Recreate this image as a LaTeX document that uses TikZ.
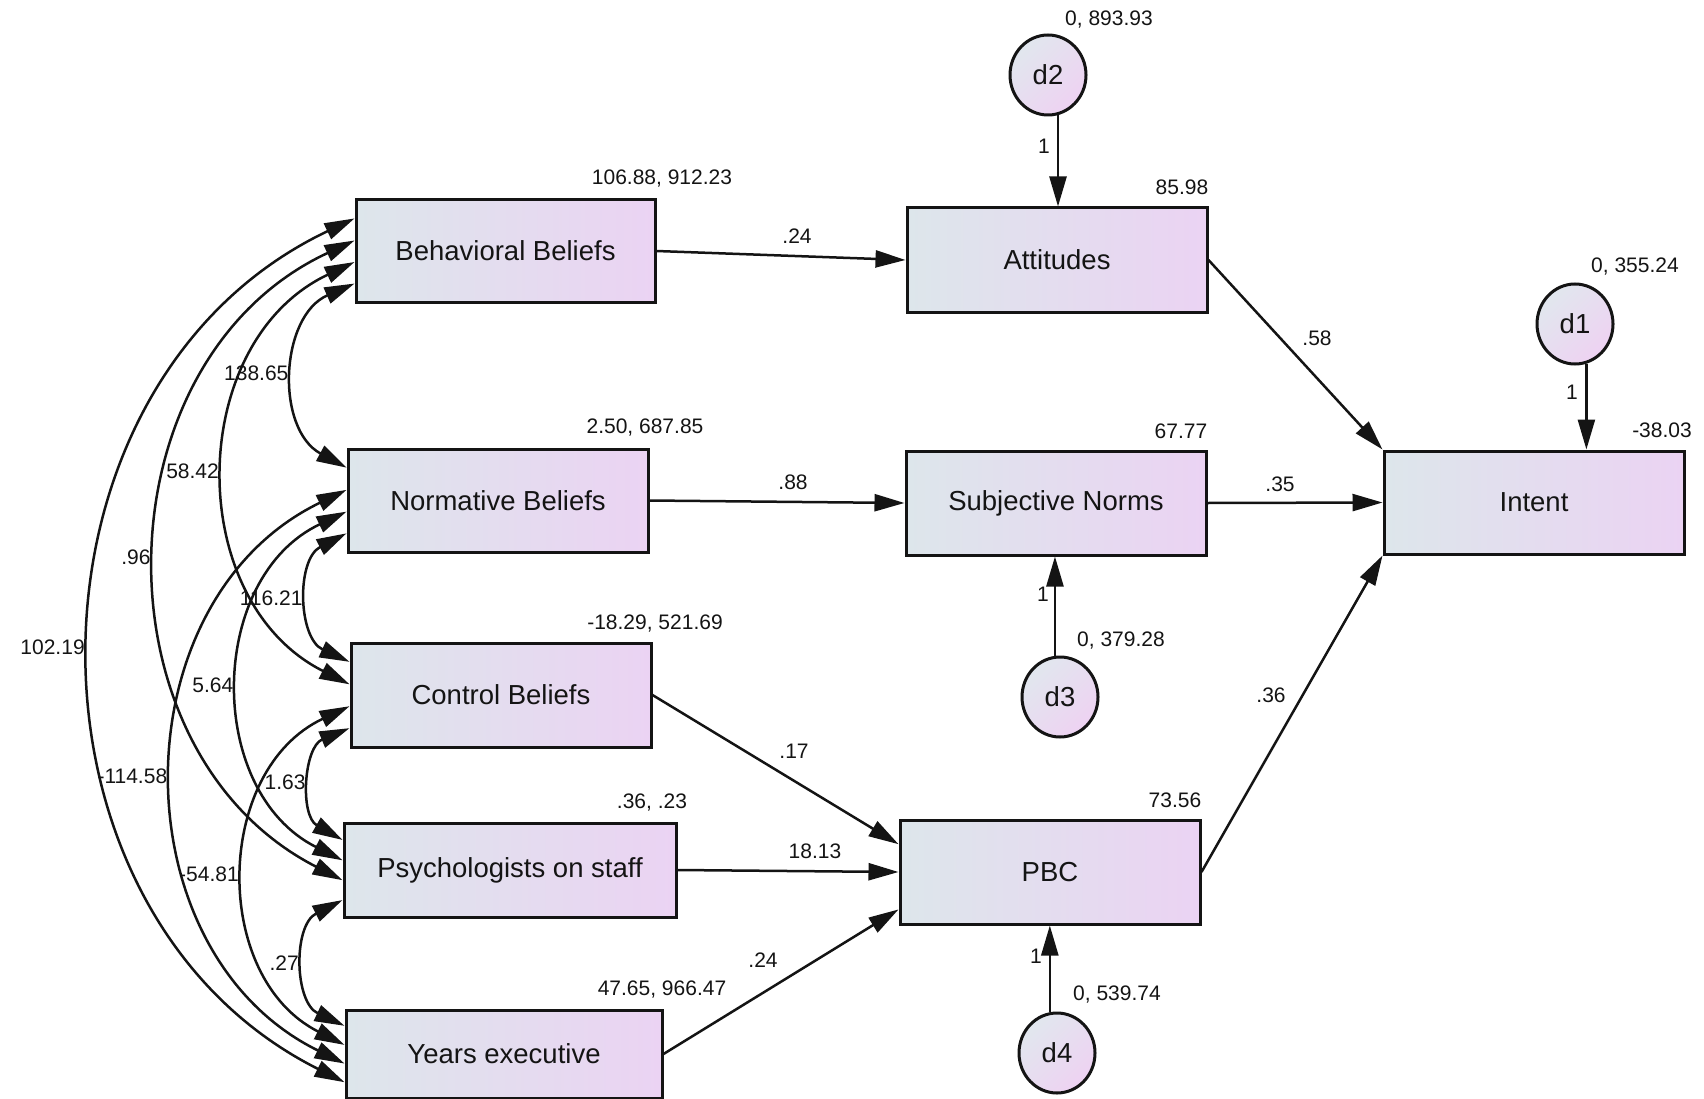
\documentclass[tikz,border=0pt]{standalone}
\usepackage{fontspec}
\setmainfont{Liberation Sans}
\usetikzlibrary{arrows.meta,shapes.geometric,calc}
\definecolor{boxL}{HTML}{DDE6EB}
\definecolor{boxR}{HTML}{EBD3F3}
\definecolor{ovalA}{HTML}{E1E7EE}
\definecolor{ovalB}{HTML}{EED2F2}
\definecolor{ink}{HTML}{141414}

\begin{document}
\begin{tikzpicture}[x=1pt,y=1pt,
  >={Triangle[length=30pt,width=17pt]},
  var/.style={draw=ink, line width=3pt, left color=boxL, right color=boxR,
    inner sep=0pt, text=ink, font=\fontsize{27.5}{30}\selectfont},
  err/.style={ellipse, draw=ink, line width=3pt, top color=ovalA, bottom color=ovalB,
    shading angle=45, minimum width=76pt, minimum height=80pt, inner sep=0pt,
    text=ink, font=\fontsize{27.5}{30}\selectfont},
  lbl/.style={font=\fontsize{21}{24}\selectfont, text=ink, inner sep=0pt},
  reg/.style={line width=2.5pt, draw=ink, ->},
  cov/.style={line width=2.5pt, draw=ink, <->, bend right=64, looseness=1.13},
  covlbl/.style={lbl, midway, anchor=east, xshift=-6pt}
]
\useasboundingbox (0,0) rectangle (1704,-1099);

% observed variables
\node[var, minimum width=299pt, minimum height=102pt] (bb) at (505.5,-251) {Behavioral Beliefs};
\node[var, minimum width=300pt, minimum height=103pt] (nb) at (498,-500.5) {Normative Beliefs};
\node[var, minimum width=300pt, minimum height=104pt] (cb) at (501,-695) {Control Beliefs};
\node[var, minimum width=332pt, minimum height=94pt]  (ps) at (510,-870) {Psychologists on staff};
\node[var, minimum width=316pt, minimum height=88pt]  (ye) at (504,-1054) {Years executive};
\node[var, minimum width=300pt, minimum height=104pt] (att) at (1057,-260) {Attitudes};
\node[var, minimum width=300pt, minimum height=104pt] (sn) at (1056,-503) {Subjective Norms};
\node[var, minimum width=300pt, minimum height=104pt] (pbc) at (1050,-872) {PBC};
\node[var, minimum width=300pt, minimum height=103pt] (intent) at (1534,-502.5) {Intent};

% disturbances
\node[err] (d2) at (1048,-75) {d2};
\node[err] (d1) at (1575,-324) {d1};
\node[err] (d3) at (1060,-697) {d3};
\node[err] (d4) at (1057,-1053) {d4};

% ports on the left side of the exogenous boxes
\foreach \n in {bb,nb,cb,ps,ye}{
  \foreach \k/\f in {1/0.19,2/0.40,3/0.605,4/0.81}{
    \coordinate (\n\k) at ($(\n.north west)!\f!(\n.south west)$);
  }
}

% covariances
\draw[cov] (bb4) to node[covlbl]{138.65} (nb1);
\draw[cov] (nb4) to node[covlbl]{116.21} (cb1);
\draw[cov] (cb4) to node[covlbl]{1.63} (ps1);
\draw[cov] (ps4) to node[covlbl]{.27} (ye1);
\draw[cov] (bb3) to node[covlbl]{58.42} (cb2);
\draw[cov] (nb3) to node[covlbl]{5.64} (ps2);
\draw[cov] (cb3) to node[covlbl]{-54.81} (ye2);
\draw[cov] (bb2) to node[covlbl]{.96} (ps3);
\draw[cov] (nb2) to node[covlbl]{-114.58} (ye3);
\draw[cov] (bb1) to node[covlbl]{102.19} (ye4);

% regression paths
\draw[reg] (bb.east) -- (att.west);
\draw[reg] (nb.east) -- (sn.west);
\draw[reg] (cb.east) -- ($(pbc.north west)!0.24!(pbc.south west)$);
\draw[reg] (ps.east) -- (pbc.west);
\draw[reg] (ye.east) -- ($(pbc.north west)!0.85!(pbc.south west)$);
\draw[reg] (att.east) -- (intent.north west);
\draw[reg] (sn.east) -- (intent.west);
\draw[reg] (pbc.east) -- (intent.south west);

\draw[reg] (d2.-76) -- (d2.-76 |- att.north);
\draw[reg] (d1.-74) -- (d1.-74 |- intent.north);
\draw[reg] (d3.97) -- (d3.97 |- sn.south);
\draw[reg] (d4.100) -- (d4.100 |- pbc.south);

% path weights
\node[lbl] (w1) at (797,-236) {.24};
\node[lbl] (w2) at (793,-482) {.88};
\node[lbl] (w3) at (794,-751) {.17};
\node[lbl] (w4) at (815,-851) {18.13};
\node[lbl] (w5) at (763,-960) {.24};
\node[lbl] (w6) at (1317,-338) {.58};
\node[lbl] (w7) at (1280,-484) {.35};
\node[lbl] (w8) at (1271,-695) {.36};
\node[lbl] (f2) at (1044,-146) {1};
\node[lbl] (f1) at (1572,-392) {1};
\node[lbl] (f3) at (1043,-594) {1};
\node[lbl] (f4) at (1036,-956) {1};

% means, variances and intercepts
\node[lbl] (vbb) at (662,-179) {106.88, 912.23};
\node[lbl] (vnb) at (645,-428) {2.50, 687.85};
\node[lbl] (vcb) at (655,-624) {-18.29, 521.69};
\node[lbl] (vps) at (652,-803) {.36, .23};
\node[lbl] (vye) at (662,-990) {47.65, 966.47};
\node[lbl] (iat) at (1182,-187) {85.98};
\node[lbl] (isn) at (1181,-431) {67.77};
\node[lbl] (ipb) at (1175,-800) {73.56};
\node[lbl] (iin) at (1662,-430) {-38.03};
\node[lbl] (vd2) at (1109,-20) {0, 893.93};
\node[lbl] (vd1) at (1635,-267) {0, 355.24};
\node[lbl] (vd3) at (1121,-641) {0, 379.28};
\node[lbl] (vd4) at (1117,-995) {0, 539.74};
\end{tikzpicture}
\end{document}
